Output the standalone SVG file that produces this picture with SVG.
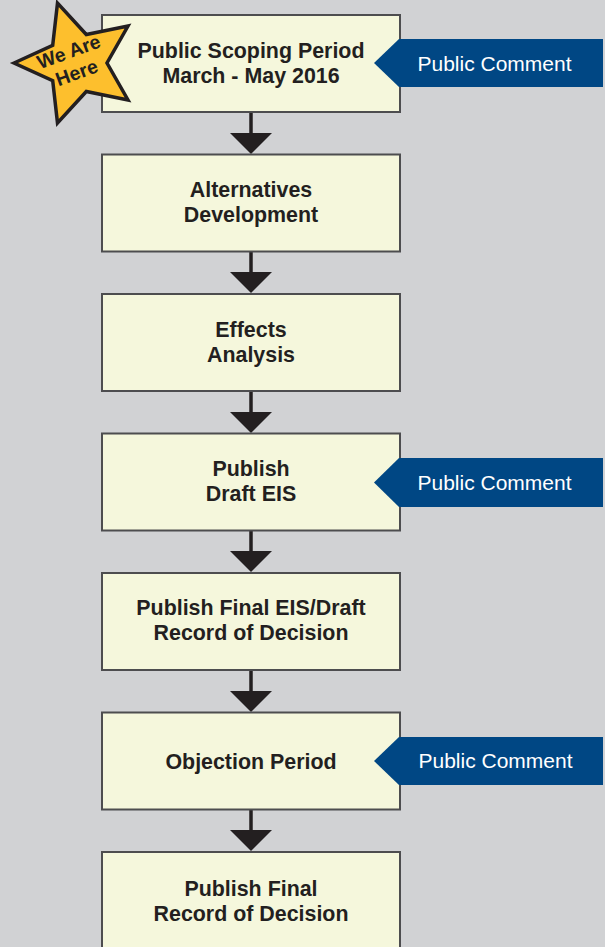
<svg xmlns="http://www.w3.org/2000/svg" width="605" height="947" viewBox="0 0 605 947">
<style>
.bg{fill:#d1d2d4}
.box{fill:#f5f7dc;stroke:#4d4d4f;stroke-width:2}
.t{font-family:"Liberation Sans",Arial,sans-serif;font-weight:bold;font-size:21.4px;fill:#231f20;text-anchor:middle}
.tab{fill:#004784}
.tt{font-family:"Liberation Sans",Arial,sans-serif;font-size:21px;fill:#ffffff;text-anchor:middle}
.ln{stroke:#231f20;stroke-width:3.5;fill:none}
.hd{fill:#231f20}
.star{fill:#fdbf2d;stroke:#231f20;stroke-width:3.5;stroke-linejoin:miter}
.st{font-family:"Liberation Sans",Arial,sans-serif;font-weight:bold;font-size:19.5px;fill:#231f20;text-anchor:middle}
</style>
<rect class="bg" x="0" y="0" width="605" height="947"/>
<g id="connectors">
<line class="ln" x1="251" y1="112" x2="251" y2="134"/><polygon class="hd" points="230,133 272,133 251,154"/>
<line class="ln" x1="251" y1="251" x2="251" y2="273"/><polygon class="hd" points="230,272 272,272 251,293"/>
<line class="ln" x1="251" y1="391" x2="251" y2="413"/><polygon class="hd" points="230,412 272,412 251,433"/>
<line class="ln" x1="251" y1="530" x2="251" y2="552"/><polygon class="hd" points="230,551 272,551 251,572"/>
<line class="ln" x1="251" y1="670" x2="251" y2="692"/><polygon class="hd" points="230,691 272,691 251,712"/>
<line class="ln" x1="251" y1="809" x2="251" y2="831"/><polygon class="hd" points="230,830 272,830 251,851"/>
</g>
<g id="n1"><rect class="box" x="102" y="15" width="298" height="97"/><text class="t" x="251" y="58">Public Scoping Period</text><text class="t" x="251" y="83">March - May 2016</text></g>
<g id="n2"><rect class="box" x="102" y="154.5" width="298" height="97"/><text class="t" x="251" y="197">Alternatives</text><text class="t" x="251" y="222">Development</text></g>
<g id="n3"><rect class="box" x="102" y="294" width="298" height="97"/><text class="t" x="251" y="337">Effects</text><text class="t" x="251" y="362">Analysis</text></g>
<g id="n4"><rect class="box" x="102" y="433.5" width="298" height="97"/><text class="t" x="251" y="476">Publish</text><text class="t" x="251" y="501">Draft EIS</text></g>
<g id="n5"><rect class="box" x="102" y="573" width="298" height="97"/><text class="t" x="251" y="615">Publish Final EIS/Draft</text><text class="t" x="251" y="640">Record of Decision</text></g>
<g id="n6"><rect class="box" x="102" y="712.5" width="298" height="97"/><text class="t" x="251" y="769">Objection Period</text></g>
<g id="n7"><rect class="box" x="102" y="852" width="298" height="100"/><text class="t" x="251" y="896">Publish Final</text><text class="t" x="251" y="921">Record of Decision</text></g>
<g id="c1"><polygon class="tab" points="374,63 399,39 603,39 603,87 399,87"/><text class="tt" x="494.5" y="70.5">Public Comment</text></g>
<g id="c2"><polygon class="tab" points="374,482.5 399,458 603,458 603,507 399,507"/><text class="tt" x="494.5" y="489.5">Public Comment</text></g>
<g id="c3"><polygon class="tab" points="374,761 399,737 603,737 603,785 399,785"/><text class="tt" x="495.5" y="768">Public Comment</text></g>
<g id="star"><polygon class="star" points="14,63 52.7,45.4 57.5,3.1 86.3,34.5 128,26 107,63 128,100 86.3,91.5 57.5,122.9 52.7,80.6"/>
<text class="st" transform="rotate(-20 71 58)" x="71" y="58">We Are</text>
<text class="st" transform="rotate(-20 79 79)" x="79" y="79">Here</text></g>
</svg>
